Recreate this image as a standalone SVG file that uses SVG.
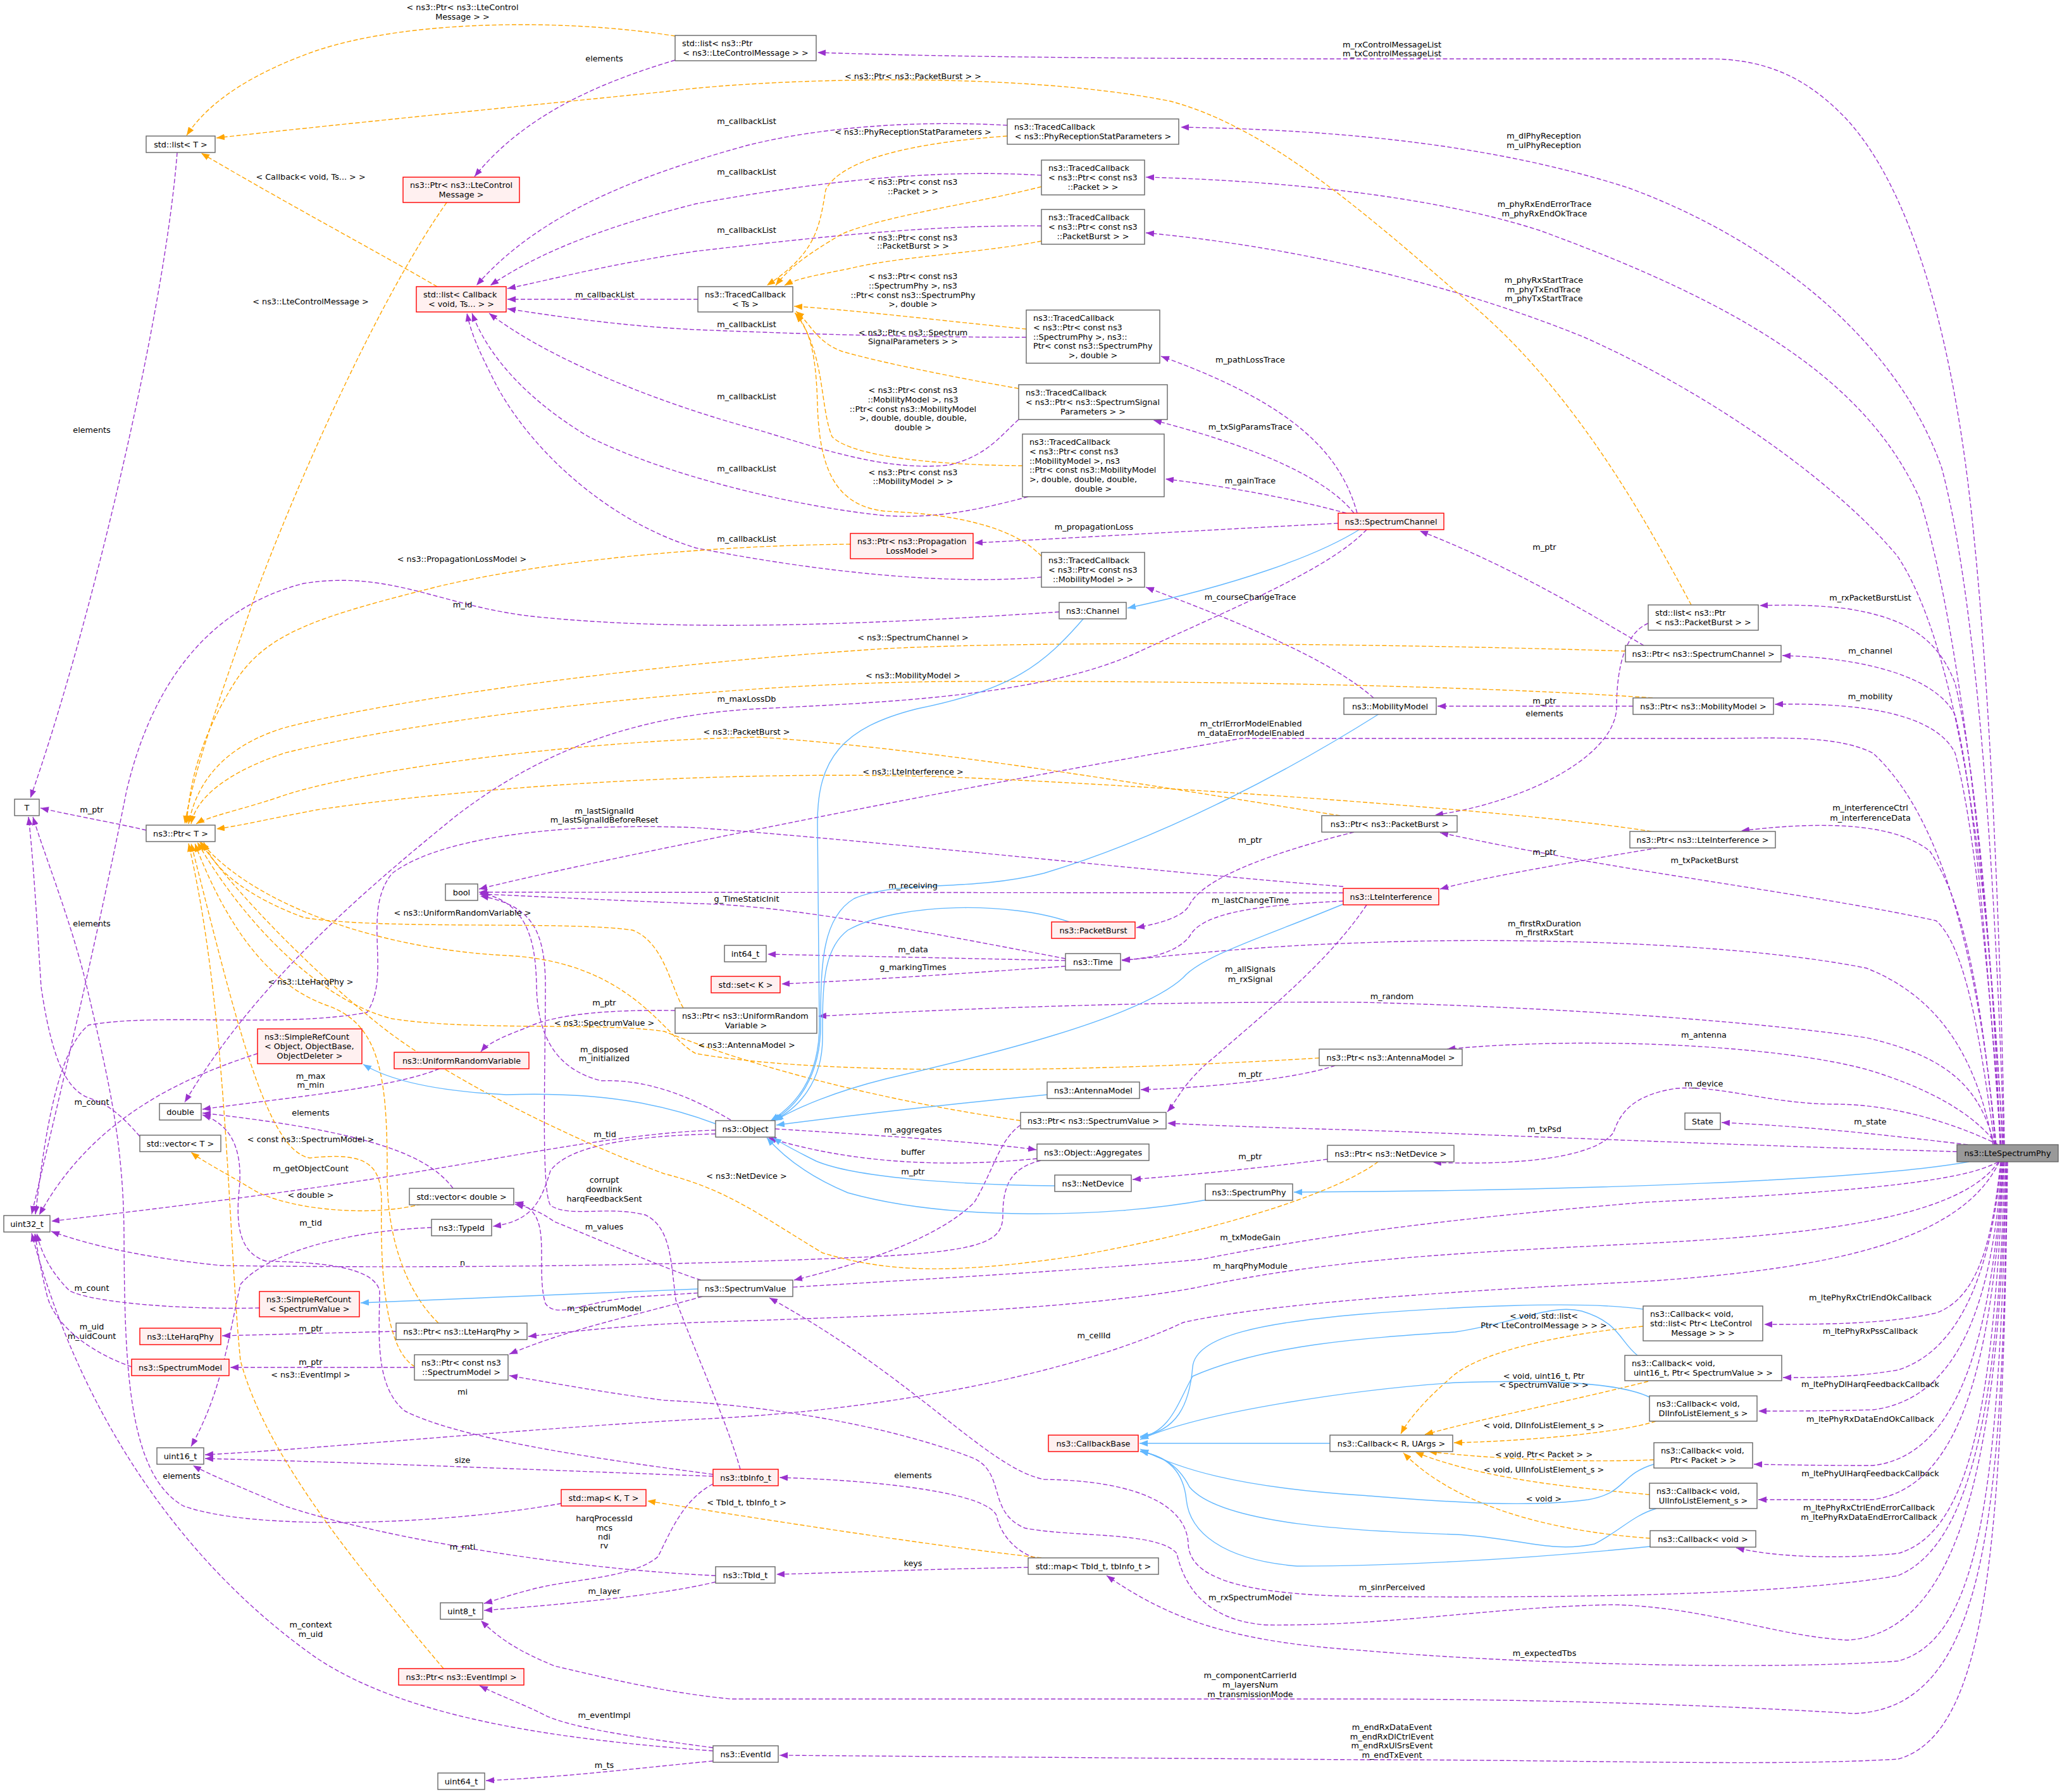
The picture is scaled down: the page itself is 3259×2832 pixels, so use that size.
<svg xmlns="http://www.w3.org/2000/svg" width="3259" height="2832" viewBox="0 0 3259 2832">
<style>
text{font-family:"DejaVu Sans","Liberation Sans",sans-serif;font-size:12.8px;fill:#000}
.m{text-anchor:middle}
.s{text-anchor:start}
.nd rect{fill:#fff;stroke:#666;stroke-width:1.4}
.rd rect{fill:#fff0f0;stroke:#f00;stroke-width:1.4}
.gd rect{fill:#999;stroke:#666;stroke-width:1.4}
.p,.o,.b{fill:none;stroke-width:1.4}
.p{stroke:#9a32cd;stroke-dasharray:7,3.5;marker-end:url(#ap)}
.o{stroke:#ffa500;stroke-dasharray:7,3.5;marker-end:url(#ao)}
.b{stroke:#63b8ff;marker-end:url(#ab)}
</style>
<defs>
<marker id="ap" viewBox="0 0 13 10" refX="13" refY="5" markerUnits="userSpaceOnUse" markerWidth="13" markerHeight="10" orient="auto"><path d="M0,0L13,5L0,10z" fill="#9a32cd"/></marker>
<marker id="ao" viewBox="0 0 13 10" refX="13" refY="5" markerUnits="userSpaceOnUse" markerWidth="13" markerHeight="10" orient="auto"><path d="M0,0L13,5L0,10z" fill="#ffa500"/></marker>
<marker id="ab" viewBox="0 0 13 10" refX="13" refY="5" markerUnits="userSpaceOnUse" markerWidth="13" markerHeight="10" orient="auto"><path d="M0,0L13,5L0,10z" fill="#63b8ff"/></marker>
</defs>
<rect width="3259" height="2832" fill="#fff"/>
<g id="edges">
<path class="p" d="M3168,1809 C3160,1400 3140,1000 3110,760 C3080,520 3020,300 2920,190 C2850,115 2780,93 2700,93 L2150,93 C1800,93 1500,90 1292,83"/>
<path class="p" d="M3167,1809 C3155,1400 3125,950 3069,740 C3000,540 2800,380 2574,297 C2350,225 2100,205 1866,201"/>
<path class="p" d="M3166,1809 C3140,1400 3100,1000 3034,788 C2950,600 2750,480 2433,364 C2250,305 2000,285 1811,280"/>
<path class="p" d="M3165,1809 C3140,1300 3080,1000 2999,879 C2900,760 2700,620 2504,533 C2300,450 2050,390 1811,368"/>
<path class="p" d="M3161,1809 C3150,1500 3120,1200 3090,1080 C3060,1000 3000,975 2920,962 C2860,955 2820,956 2781,957"/>
<path class="p" d="M3162,1809 C3140,1500 3120,1250 3090,1130 C3060,1070 2950,1040 2817,1036"/>
<path class="p" d="M3163,1809 C3145,1550 3120,1300 3090,1190 C3060,1130 2950,1110 2805,1113"/>
<path class="p" d="M3155,1809 C3130,1550 3080,1300 2960,1190 C2900,1160 2800,1167 2700,1167 L1962,1167 C1800,1195 1500,1250 1300,1290 C1100,1330 900,1370 757,1405"/>
<path class="p" d="M3154,1809 C3130,1550 3100,1420 3050,1345 C3000,1305 2900,1295 2752,1313"/>
<path class="p" d="M3153,1809 C3130,1650 3110,1500 3060,1455 C2900,1420 2600,1380 2450,1350 C2380,1338 2320,1325 2276,1316"/>
<path class="p" d="M3150,1809 C3120,1650 3050,1570 2950,1530 C2750,1490 2400,1480 2150,1490 C2000,1495 1900,1505 1773,1518"/>
<path class="p" d="M3152,1809 C3130,1720 3080,1670 2950,1640 C2750,1610 2400,1590 2150,1584 C1800,1582 1500,1595 1293,1606"/>
<path class="p" d="M3156,1809 C3120,1760 3050,1720 2950,1690 C2800,1650 2500,1638 2287,1658"/>
<path class="p" d="M3158,1809 C3100,1780 3000,1745 2900,1745 C2800,1745 2720,1715 2650,1720 C2580,1730 2560,1760 2550,1790 C2520,1830 2400,1842 2265,1837"/>
<path class="p" d="M3110,1809 C2950,1790 2850,1780 2721,1774"/>
<path class="p" d="M3093,1820 C2800,1812 2400,1795 2150,1786 C2000,1782 1900,1778 1845,1775"/>
<path class="b" d="M3112,1836 C2950,1865 2500,1882 2045,1884"/>
<path class="p" d="M3158,1836 C3100,1870 2900,1885 2600,1900 C2300,1925 2100,1950 1900,1990 C1700,2010 1300,2030 1000,2050 C920,2058 880,2085 862,2060 C850,2020 862,1960 850,1930 C844,1912 830,1904 814,1900"/>
<path class="p" d="M3159,1836 C3100,1920 2900,1950 2600,1965 C2300,1980 2100,1990 1890,2035 C1700,2070 1400,2080 1100,2090 C980,2095 900,2105 835,2112"/>
<path class="p" d="M3160,1836 C3100,1960 2900,2005 2600,2025 C2300,2040 2000,2060 1870,2090 C1700,2170 1400,2230 1100,2243 C800,2260 500,2290 324,2299"/>
<path class="p" d="M3162,1836 C3150,1950 3130,2050 3060,2075 C2980,2093 2880,2093 2788,2093"/>
<path class="p" d="M3163,1836 C3150,1980 3110,2130 3000,2165 C2930,2177 2870,2177 2818,2177"/>
<path class="p" d="M3164,1836 C3150,2050 3100,2210 2960,2228 C2880,2230 2830,2230 2779,2230"/>
<path class="p" d="M3165,1836 C3150,2100 3100,2300 2960,2316 C2880,2316 2820,2315 2772,2314"/>
<path class="p" d="M3166,1836 C3150,2150 3100,2350 2960,2370 C2880,2370 2830,2370 2779,2370"/>
<path class="p" d="M3167,1836 C3150,2200 3120,2420 3000,2455 C2900,2465 2800,2460 2744,2446"/>
<path class="p" d="M3168,1836 C3160,2200 3120,2440 3000,2490 C2800,2525 2400,2525 2150,2523 C1950,2520 1880,2490 1878,2440 C1876,2380 1800,2340 1650,2338 C1560,2320 1450,2180 1216,2051"/>
<path class="p" d="M3170,1836 C3160,2300 3100,2580 2920,2592 C2800,2585 2700,2540 2550,2536 C2350,2540 2200,2570 2000,2568 C1900,2560 1870,2500 1860,2455 C1830,2420 1700,2430 1620,2415 C1560,2390 1590,2330 1540,2305 C1400,2250 1200,2220 1050,2213 C950,2200 870,2185 805,2174"/>
<path class="p" d="M3171,1836 C3160,2350 3130,2590 3000,2625 C2800,2640 2400,2630 2150,2608 C1950,2595 1850,2560 1749,2490"/>
<path class="p" d="M3172,1836 C3165,2400 3140,2700 2930,2708 C2800,2700 2500,2685 2150,2685 L1155,2685 C1050,2675 950,2650 877,2633 C820,2610 790,2590 760,2561"/>
<path class="p" d="M3173,1836 C3165,2450 3140,2740 3000,2780 C2800,2792 2500,2781 2150,2781 L1232,2774"/>
<path class="p" d="M1067,95 C950,130 830,180 750,279"/>
<path class="p" d="M280,241 C260,500 140,1000 48,1261"/>
<path class="p" d="M1592,198 C1450,190 1300,200 1180,230 C1000,280 850,340 753,451"/>
<path class="p" d="M1646,277 C1450,265 1250,295 1100,322 C950,360 850,400 775,451"/>
<path class="p" d="M1646,357 C1450,355 1250,380 1100,397 C950,420 880,440 802,456"/>
<path class="p" d="M1103,473 L802,473"/>
<path class="p" d="M1622,533 C1400,533 1200,525 1100,521 C980,515 880,500 802,488"/>
<path class="p" d="M1610,663 C1580,690 1560,720 1500,735 C1400,745 1300,710 1200,680 C1050,640 870,570 773,495"/>
<path class="p" d="M1625,785 C1550,805 1480,820 1400,815 C1250,800 1050,750 930,690 C830,630 770,560 746,495"/>
<path class="p" d="M1646,912 C1500,925 1300,905 1100,866 C950,820 830,700 780,600 C760,560 745,530 738,495"/>
<path class="p" d="M2145,811 C2120,720 2050,640 1835,563"/>
<path class="p" d="M2140,811 C2100,760 2000,710 1823,664"/>
<path class="p" d="M2128,811 C2050,790 1950,770 1842,757"/>
<path class="p" d="M2115,827 C1900,838 1700,850 1540,858"/>
<path class="p" d="M2160,837 C2100,900 1950,960 1800,1030 C1650,1100 1400,1110 1200,1120 C1000,1130 850,1190 720,1290 C560,1420 400,1560 292,1742"/>
<path class="p" d="M2598,1020 C2520,975 2400,900 2244,839"/>
<path class="p" d="M2171,1103 C2100,1040 1950,980 1811,928"/>
<path class="p" d="M2581,1116 L2272,1116"/>
<path class="p" d="M2605,985 C2570,1000 2555,1050 2555,1120 C2550,1200 2400,1270 2268,1288"/>
<path class="p" d="M1674,967 C1400,985 1100,1000 850,975 C700,960 620,900 480,922 C330,960 240,1080 200,1250 C150,1500 90,1750 50,1919"/>
<path class="p" d="M2140,1315 C2000,1350 1900,1390 1880,1430 C1870,1450 1830,1460 1796,1466"/>
<path class="p" d="M2620,1340 C2500,1360 2350,1385 2276,1405"/>
<path class="p" d="M2123,1411 L757,1410"/>
<path class="p" d="M2123,1401 C1900,1385 1400,1330 1100,1308 C900,1300 700,1320 620,1380 C570,1440 620,1540 580,1600 C450,1625 250,1600 140,1620 C90,1660 70,1800 56,1919"/>
<path class="p" d="M2123,1424 C2000,1430 1900,1440 1880,1480 C1860,1505 1820,1515 1773,1517"/>
<path class="p" d="M2160,1430 C2100,1520 2000,1600 1920,1670 C1870,1710 1860,1740 1845,1757"/>
<path class="p" d="M1684,1515 C1500,1480 1250,1430 1100,1428 C900,1420 820,1415 757,1413"/>
<path class="p" d="M1684,1518 L1213,1508"/>
<path class="p" d="M1684,1527 C1500,1540 1350,1550 1235,1555"/>
<path class="p" d="M1067,1597 C950,1595 870,1605 830,1625 C790,1640 770,1650 760,1662"/>
<path class="p" d="M694,1689 C620,1720 450,1735 320,1753"/>
<path class="p" d="M2110,1684 C2050,1705 1900,1720 1803,1722"/>
<path class="p" d="M1613,1778 C1580,1800 1570,1850 1540,1900 C1480,1960 1350,2000 1255,2023"/>
<path class="p" d="M1225,1784 C1400,1795 1550,1805 1638,1817"/>
<path class="p" d="M1639,1831 C1500,1845 1350,1840 1214,1798"/>
<path class="p" d="M1645,1834 C1600,1845 1585,1870 1585,1920 C1585,1960 1560,1975 1400,1985 C1100,2000 700,2005 350,2000 C200,1985 120,1960 81,1946"/>
<path class="p" d="M1155,1770 C1100,1738 1030,1705 950,1708 C880,1690 850,1640 848,1560 C847,1480 830,1425 759,1411"/>
<path class="p" d="M1131,1786 C1000,1790 850,1820 700,1845 C500,1880 250,1910 81,1930"/>
<path class="p" d="M1131,1792 C1000,1795 900,1810 870,1850 C855,1900 840,1930 779,1938"/>
<path class="p" d="M682,1940 C550,1945 420,1980 380,2030 C360,2120 350,2200 302,2286"/>
<path class="p" d="M407,1665 C300,1700 150,1760 62,1920"/>
<path class="p" d="M410,2067 C300,2070 150,2060 110,2040 C80,2010 65,1980 58,1949"/>
<path class="p" d="M208,2160 C150,2140 90,2100 75,2050 C65,2010 60,1980 55,1949"/>
<path class="p" d="M1127,2767 C900,2750 650,2720 500,2620 C300,2480 130,2250 50,1949"/>
<path class="p" d="M1127,2762 C1000,2745 900,2730 860,2710 C820,2690 790,2680 758,2664"/>
<path class="p" d="M1127,2783 C1000,2795 900,2808 768,2814"/>
<path class="p" d="M1127,2333 C900,2325 600,2312 324,2305"/>
<path class="p" d="M1170,2322 C1150,2250 1100,2140 1068,2054 C1060,1990 1060,1940 1020,1920 C960,1905 900,1925 870,1905 C855,1880 862,1700 862,1550 C860,1470 840,1430 759,1416"/>
<path class="p" d="M1127,2345 C1080,2370 1060,2420 1040,2460 C1000,2495 900,2495 840,2512 C800,2522 780,2530 765,2534"/>
<path class="p" d="M1127,2330 C900,2300 720,2270 640,2230 C590,2190 600,2100 600,2040 C590,2000 500,1995 420,1993 C380,1980 372,1940 378,1880 C385,1810 360,1775 320,1762"/>
<path class="p" d="M1636,2462 C1600,2450 1580,2420 1575,2395 C1560,2360 1400,2340 1232,2335"/>
<path class="p" d="M1625,2477 C1450,2480 1350,2485 1227,2488"/>
<path class="p" d="M1131,2500 C1050,2520 900,2535 765,2545"/>
<path class="p" d="M1131,2490 C900,2480 600,2430 450,2380 C380,2350 330,2330 305,2316"/>
<path class="p" d="M887,2376 C700,2410 400,2420 290,2380 C200,2330 197,2150 196,1950 C195,1800 170,1700 135,1550 C110,1450 70,1350 52,1291"/>
<path class="p" d="M221,1796 C190,1760 170,1745 140,1735 C100,1720 80,1660 65,1560 C58,1450 52,1350 45,1291"/>
<path class="p" d="M231,1312 C180,1300 120,1290 64,1277"/>
<path class="p" d="M716,1878 C680,1830 600,1790 320,1759"/>
<path class="p" d="M1108,2023 C1050,2005 950,1960 877,1931 C860,1920 850,1912 814,1903"/>
<path class="p" d="M1110,2049 C1000,2080 900,2100 805,2140"/>
<path class="p" d="M655,2161 L364,2161"/>
<path class="p" d="M626,2104 L351,2111"/>
<path class="p" d="M2098,1832 C2000,1845 1900,1855 1790,1864"/>
<path class="o" d="M1067,57 C900,30 650,30 500,80 C400,115 330,160 295,214"/>
<path class="o" d="M2673,956 C2600,820 2480,600 2300,460 C2150,330 2000,200 1850,160 C1600,110 1200,125 1050,145 C800,170 500,200 342,218"/>
<path class="o" d="M691,453 C600,400 450,320 318,242"/>
<path class="o" d="M706,320 C600,470 470,760 400,950 C360,1070 310,1200 292,1302"/>
<path class="o" d="M1592,215 C1450,225 1330,250 1305,300 C1295,360 1290,400 1212,451"/>
<path class="o" d="M1646,295 C1550,320 1400,340 1330,370 C1280,400 1250,420 1226,451"/>
<path class="o" d="M1646,381 C1550,400 1420,405 1340,425 C1290,435 1260,440 1240,451"/>
<path class="o" d="M1622,520 C1500,508 1350,490 1255,484"/>
<path class="o" d="M1610,614 C1500,595 1380,570 1330,555 C1290,540 1280,510 1258,492"/>
<path class="o" d="M1616,736 C1500,735 1350,725 1315,690 C1295,640 1305,560 1258,496"/>
<path class="o" d="M1646,879 C1600,830 1500,812 1400,808 C1320,800 1295,740 1292,640 C1290,560 1280,520 1256,494"/>
<path class="o" d="M1344,860 C1150,862 900,880 700,925 C500,975 420,1000 370,1080 C320,1160 300,1230 295,1302"/>
<path class="o" d="M2569,1029 C2300,1020 1700,1010 1400,1025 C1000,1050 600,1110 450,1150 C350,1180 310,1240 298,1302"/>
<path class="o" d="M2612,1103 C2400,1088 2000,1075 1500,1077 C1100,1080 650,1140 450,1190 C360,1220 310,1260 302,1302"/>
<path class="o" d="M2118,1289 C1900,1255 1500,1185 1200,1165 C900,1170 550,1220 440,1260 C380,1280 330,1290 310,1302"/>
<path class="o" d="M2610,1314 C2400,1280 1800,1240 1500,1228 C1100,1215 700,1250 500,1280 C420,1295 380,1305 342,1310"/>
<path class="o" d="M1080,1593 C1060,1560 1050,1490 1000,1470 C900,1455 600,1470 480,1450 C400,1420 340,1380 322,1331"/>
<path class="o" d="M2085,1672 C1700,1695 1300,1700 1100,1665 C1050,1640 1000,1520 800,1510 C600,1500 400,1430 318,1331"/>
<path class="o" d="M1613,1771 C1400,1740 1200,1690 1050,1630 C950,1615 750,1630 620,1610 C500,1580 380,1450 312,1331"/>
<path class="o" d="M2178,1836 C2120,1880 1950,1940 1700,1985 C1500,2015 1400,2010 1300,1980 C1200,1920 1150,1880 1050,1855 C900,1800 700,1700 600,1620 C500,1540 380,1420 316,1331"/>
<path class="o" d="M693,2091 C640,2040 610,1950 612,1850 C612,1700 600,1620 520,1590 C430,1560 360,1470 308,1333"/>
<path class="o" d="M656,2160 C620,2140 600,2060 603,1900 C603,1840 580,1820 490,1830 C420,1820 370,1600 302,1333"/>
<path class="o" d="M701,2637 C560,2470 420,2300 380,2150 C360,1950 360,1600 298,1333"/>
<path class="o" d="M666,1903 C580,1925 450,1910 400,1880 C350,1850 320,1835 302,1821"/>
<path class="o" d="M1646,2462 C1450,2440 1200,2400 1023,2372"/>
<path class="o" d="M2597,2096 C2450,2110 2330,2140 2290,2180 C2250,2215 2225,2245 2214,2266"/>
<path class="o" d="M2605,2183 C2500,2210 2350,2240 2252,2267"/>
<path class="o" d="M2617,2246 C2560,2265 2400,2278 2298,2280"/>
<path class="o" d="M2614,2307 C2500,2312 2350,2305 2258,2294"/>
<path class="o" d="M2607,2362 C2500,2352 2350,2340 2237,2295"/>
<path class="o" d="M2608,2431 C2450,2420 2300,2380 2218,2296"/>
<path class="b" d="M2150,836 C2080,880 1950,925 1782,961"/>
<path class="b" d="M1713,977 C1650,1050 1600,1090 1450,1120 C1330,1150 1292,1200 1292,1300 L1295,1620 C1295,1700 1260,1745 1218,1771"/>
<path class="b" d="M2180,1128 C2050,1210 1850,1320 1650,1380 C1530,1410 1420,1390 1350,1420 C1300,1450 1297,1520 1297,1620 C1297,1700 1260,1750 1220,1771"/>
<path class="b" d="M1690,1457 C1600,1425 1420,1425 1340,1470 C1300,1500 1300,1560 1300,1640 C1300,1710 1262,1752 1222,1771"/>
<path class="b" d="M2125,1428 C2000,1480 1900,1510 1870,1545 C1800,1610 1550,1670 1400,1705 C1320,1725 1260,1750 1225,1771"/>
<path class="b" d="M1655,1730 C1500,1745 1350,1762 1227,1778"/>
<path class="b" d="M1667,1874 C1500,1872 1350,1860 1290,1835 C1260,1820 1240,1810 1222,1798"/>
<path class="b" d="M1908,1896 C1750,1925 1500,1930 1340,1885 C1280,1860 1240,1830 1212,1798"/>
<path class="b" d="M1131,1776 C1050,1745 950,1725 800,1730 C700,1725 620,1710 574,1682"/>
<path class="b" d="M1103,2037 C900,2045 700,2052 570,2059"/>
<path class="b" d="M2102,2281 L1801,2281"/>
<path class="b" d="M2597,2069 C2500,2055 2300,2065 2150,2077 C2000,2090 1890,2110 1885,2160 C1880,2220 1860,2262 1802,2270"/>
<path class="b" d="M2588,2142 C2560,2120 2560,2090 2500,2072 C2450,2060 2400,2090 2300,2105 C2150,2115 2000,2125 1885,2175 C1860,2220 1850,2262 1802,2272"/>
<path class="b" d="M2607,2208 C2560,2185 2450,2180 2300,2185 C2150,2195 1900,2230 1802,2275"/>
<path class="b" d="M2614,2314 C2560,2330 2570,2360 2510,2370 C2400,2385 2250,2370 2150,2363 C1950,2350 1860,2320 1802,2290"/>
<path class="b" d="M2618,2384 C2580,2395 2560,2420 2520,2440 C2450,2455 2400,2430 2300,2425 C2150,2420 1930,2410 1880,2350 C1860,2310 1830,2300 1802,2293"/>
<path class="b" d="M2608,2444 C2400,2465 2200,2475 2050,2475 C1930,2465 1880,2420 1875,2370 C1870,2320 1840,2300 1802,2294"/>
<g class="m">
<text x="731" y="16">&lt; ns3::Ptr&lt; ns3::LteControl</text><text x="731" y="31">Message &gt; &gt;</text>
<text x="955" y="97">elements</text>
<text x="2200" y="75">m_rxControlMessageList</text><text x="2200" y="89">m_txControlMessageList</text>
<text x="1443" y="125">&lt; ns3::Ptr&lt; ns3::PacketBurst &gt; &gt;</text>
<text x="1180" y="196">m_callbackList</text>
<text x="1443" y="213">&lt; ns3::PhyReceptionStatParameters &gt;</text>
<text x="2440" y="219">m_dlPhyReception</text><text x="2440" y="234">m_ulPhyReception</text>
<text x="1180" y="276">m_callbackList</text>
<text x="1443" y="292">&lt; ns3::Ptr&lt; const ns3</text><text x="1443" y="307">::Packet &gt; &gt;</text>
<text x="491" y="284">&lt; Callback&lt; void, Ts... &gt; &gt;</text>
<text x="2441" y="327">m_phyRxEndErrorTrace</text><text x="2441" y="342">m_phyRxEndOkTrace</text>
<text x="1180" y="368">m_callbackList</text>
<text x="1443" y="380">&lt; ns3::Ptr&lt; const ns3</text><text x="1443" y="393">::PacketBurst &gt; &gt;</text>
<text x="1443" y="441">&lt; ns3::Ptr&lt; const ns3</text><text x="1443" y="456">::SpectrumPhy &gt;, ns3</text><text x="1443" y="471">::Ptr&lt; const ns3::SpectrumPhy</text><text x="1443" y="485">&gt;, double &gt;</text>
<text x="2440" y="447">m_phyRxStartTrace</text><text x="2440" y="462">m_phyTxEndTrace</text><text x="2440" y="476">m_phyTxStartTrace</text>
<text x="956" y="470">m_callbackList</text>
<text x="491" y="481">&lt; ns3::LteControlMessage &gt;</text>
<text x="1180" y="517">m_callbackList</text>
<text x="1443" y="530">&lt; ns3::Ptr&lt; ns3::Spectrum</text><text x="1443" y="544">SignalParameters &gt; &gt;</text>
<text x="1976" y="573">m_pathLossTrace</text>
<text x="1443" y="621">&lt; ns3::Ptr&lt; const ns3</text><text x="1443" y="636">::MobilityModel &gt;, ns3</text><text x="1443" y="651">::Ptr&lt; const ns3::MobilityModel</text><text x="1443" y="665">&gt;, double, double, double,</text><text x="1443" y="680">double &gt;</text>
<text x="1180" y="631">m_callbackList</text>
<text x="1976" y="679">m_txSigParamsTrace</text>
<text x="145" y="684">elements</text>
<text x="1180" y="745">m_callbackList</text>
<text x="1443" y="751">&lt; ns3::Ptr&lt; const ns3</text><text x="1443" y="765">::MobilityModel &gt; &gt;</text>
<text x="1976" y="764">m_gainTrace</text>
<text x="1729" y="837">m_propagationLoss</text>
<text x="1180" y="856">m_callbackList</text>
<text x="2441" y="869">m_ptr</text>
<text x="730" y="888">&lt; ns3::PropagationLossModel &gt;</text>
<text x="1976" y="948">m_courseChangeTrace</text>
<text x="2956" y="949">m_rxPacketBurstList</text>
<text x="731" y="960">m_id</text>
<text x="1443" y="1012">&lt; ns3::SpectrumChannel &gt;</text>
<text x="2956" y="1033">m_channel</text>
<text x="1443" y="1072">&lt; ns3::MobilityModel &gt;</text>
<text x="2956" y="1105">m_mobility</text>
<text x="1180" y="1109">m_maxLossDb</text>
<text x="2441" y="1112">m_ptr</text>
<text x="2441" y="1132">elements</text>
<text x="1977" y="1148">m_ctrlErrorModelEnabled</text><text x="1977" y="1163">m_dataErrorModelEnabled</text>
<text x="1180" y="1161">&lt; ns3::PacketBurst &gt;</text>
<text x="1443" y="1224">&lt; ns3::LteInterference &gt;</text>
<text x="2956" y="1281">m_interferenceCtrl</text><text x="2956" y="1297">m_interferenceData</text>
<text x="145" y="1284">m_ptr</text>
<text x="955" y="1286">m_lastSignalId</text><text x="955" y="1300">m_lastSignalIdBeforeReset</text>
<text x="1976" y="1332">m_ptr</text>
<text x="2441" y="1351">m_ptr</text>
<text x="2694" y="1364">m_txPacketBurst</text>
<text x="1443" y="1404">m_receiving</text>
<text x="1180" y="1425">g_TimeStaticInit</text>
<text x="1976" y="1427">m_lastChangeTime</text>
<text x="731" y="1447">&lt; ns3::UniformRandomVariable &gt;</text>
<text x="145" y="1464">elements</text>
<text x="2441" y="1464">m_firstRxDuration</text><text x="2441" y="1478">m_firstRxStart</text>
<text x="1443" y="1505">m_data</text>
<text x="1443" y="1533">g_markingTimes</text>
<text x="1976" y="1536">m_allSignals</text><text x="1976" y="1552">m_rxSignal</text>
<text x="491" y="1556">&lt; ns3::LteHarqPhy &gt;</text>
<text x="2200" y="1579">m_random</text>
<text x="955" y="1589">m_ptr</text>
<text x="955" y="1621">&lt; ns3::SpectrumValue &gt;</text>
<text x="2693" y="1640">m_antenna</text>
<text x="1180" y="1656">&lt; ns3::AntennaModel &gt;</text>
<text x="955" y="1663">m_disposed</text><text x="955" y="1677">m_initialized</text>
<text x="1976" y="1702">m_ptr</text>
<text x="491" y="1705">m_max</text><text x="491" y="1719">m_min</text>
<text x="2693" y="1717">m_device</text>
<text x="145" y="1746">m_count</text>
<text x="491" y="1763">elements</text>
<text x="2956" y="1777">m_state</text>
<text x="2441" y="1789">m_txPsd</text>
<text x="1443" y="1790">m_aggregates</text>
<text x="956" y="1797">m_tid</text>
<text x="491" y="1805">&lt; const ns3::SpectrumModel &gt;</text>
<text x="1443" y="1825">buffer</text>
<text x="1976" y="1832">m_ptr</text>
<text x="491" y="1851">m_getObjectCount</text>
<text x="1443" y="1856">m_ptr</text>
<text x="1180" y="1863">&lt; ns3::NetDevice &gt;</text>
<text x="955" y="1869">corrupt</text><text x="955" y="1884">downlink</text><text x="955" y="1899">harqFeedbackSent</text>
<text x="491" y="1893">&lt; double &gt;</text>
<text x="491" y="1937">m_tid</text>
<text x="955" y="1943">m_values</text>
<text x="1976" y="1960">m_txModeGain</text>
<text x="731" y="2000">n</text>
<text x="1976" y="2005">m_harqPhyModule</text>
<text x="145" y="2040">m_count</text>
<text x="2956" y="2055">m_ltePhyRxCtrlEndOkCallback</text>
<text x="955" y="2072">m_spectrumModel</text>
<text x="2440" y="2084">&lt; void, std::list&lt;</text><text x="2440" y="2099">Ptr&lt; LteControlMessage &gt; &gt; &gt;</text>
<text x="145" y="2101">m_uid</text><text x="145" y="2116">m_uidCount</text>
<text x="491" y="2104">m_ptr</text>
<text x="2956" y="2108">m_ltePhyRxPssCallback</text>
<text x="1729" y="2115">m_cellId</text>
<text x="491" y="2157">m_ptr</text>
<text x="491" y="2177">&lt; ns3::EventImpl &gt;</text>
<text x="2440" y="2179">&lt; void, uint16_t, Ptr</text><text x="2440" y="2193">&lt; SpectrumValue &gt; &gt;</text>
<text x="2956" y="2192">m_ltePhyDlHarqFeedbackCallback</text>
<text x="731" y="2204">mi</text>
<text x="2956" y="2247">m_ltePhyRxDataEndOkCallback</text>
<text x="2440" y="2257">&lt; void, DlInfoListElement_s &gt;</text>
<text x="2440" y="2303">&lt; void, Ptr&lt; Packet &gt; &gt;</text>
<text x="731" y="2312">size</text>
<text x="2440" y="2327">&lt; void, UlInfoListElement_s &gt;</text>
<text x="2956" y="2333">m_ltePhyUlHarqFeedbackCallback</text>
<text x="1443" y="2336">elements</text>
<text x="287" y="2337">elements</text>
<text x="2440" y="2373">&lt; void &gt;</text>
<text x="1180" y="2379">&lt; TbId_t, tbInfo_t &gt;</text>
<text x="2954" y="2387">m_ltePhyRxCtrlEndErrorCallback</text><text x="2954" y="2402">m_ltePhyRxDataEndErrorCallback</text>
<text x="955" y="2404">harqProcessId</text><text x="955" y="2419">mcs</text><text x="955" y="2433">ndi</text><text x="955" y="2447">rv</text>
<text x="731" y="2449">m_rnti</text>
<text x="1443" y="2475">keys</text>
<text x="2200" y="2513">m_sinrPerceived</text>
<text x="955" y="2519">m_layer</text>
<text x="1976" y="2529">m_rxSpectrumModel</text>
<text x="491" y="2572">m_context</text><text x="491" y="2587">m_uid</text>
<text x="2441" y="2617">m_expectedTbs</text>
<text x="1976" y="2652">m_componentCarrierId</text><text x="1976" y="2667">m_layersNum</text><text x="1976" y="2682">m_transmissionMode</text>
<text x="955" y="2715">m_eventImpl</text>
<text x="2200" y="2734">m_endRxDataEvent</text><text x="2200" y="2749">m_endRxDlCtrlEvent</text><text x="2200" y="2763">m_endRxUlSrsEvent</text><text x="2200" y="2778">m_endTxEvent</text>
<text x="955" y="2794">m_ts</text>
</g>
</g>
<g id="node-listLteCtrl" class="nd"><rect x="1067" y="56" width="223" height="40"/><text class="s" x="1078" y="73">std::list&lt; ns3::Ptr</text><text class="m" x="1178.5" y="88">&lt; ns3::LteControlMessage &gt; &gt;</text></g>
<g id="node-listT" class="nd"><rect x="231" y="215" width="109" height="26"/><text class="m" x="285.5" y="232.5">std::list&lt; T &gt;</text></g>
<g id="node-PtrLteCtrlMsg" class="rd"><rect x="637" y="280" width="184" height="40"/><text class="s" x="648" y="297">ns3::Ptr&lt; ns3::LteControl</text><text class="m" x="729" y="312">Message &gt;</text></g>
<g id="node-listCallback" class="rd"><rect x="658" y="453" width="142" height="40"/><text class="s" x="669" y="470">std::list&lt; Callback</text><text class="m" x="729" y="485">&lt; void, Ts... &gt; &gt;</text></g>
<g id="node-TCPhyRecep" class="nd"><rect x="1592" y="188" width="271" height="40"/><text class="s" x="1603" y="205">ns3::TracedCallback</text><text class="m" x="1727.5" y="220">&lt; ns3::PhyReceptionStatParameters &gt;</text></g>
<g id="node-TCPacket" class="nd"><rect x="1646" y="253" width="163" height="55"/><text class="s" x="1657" y="270">ns3::TracedCallback</text><text class="s" x="1657" y="285">&lt; ns3::Ptr&lt; const ns3</text><text class="m" x="1727.5" y="300">::Packet &gt; &gt;</text></g>
<g id="node-TCPacketBurst" class="nd"><rect x="1646" y="331" width="163" height="55"/><text class="s" x="1657" y="348">ns3::TracedCallback</text><text class="s" x="1657" y="363">&lt; ns3::Ptr&lt; const ns3</text><text class="m" x="1727.5" y="378">::PacketBurst &gt; &gt;</text></g>
<g id="node-TCTs" class="nd"><rect x="1103" y="453" width="150" height="40"/><text class="s" x="1114" y="470">ns3::TracedCallback</text><text class="m" x="1178" y="485">&lt; Ts &gt;</text></g>
<g id="node-TCSpecPhy" class="nd"><rect x="1622" y="490" width="211" height="84"/><text class="s" x="1633" y="507">ns3::TracedCallback</text><text class="s" x="1633" y="522">&lt; ns3::Ptr&lt; const ns3</text><text class="s" x="1633" y="536.5">::SpectrumPhy &gt;, ns3::</text><text class="s" x="1633" y="551">Ptr&lt; const ns3::SpectrumPhy</text><text class="m" x="1727.5" y="566">&gt;, double &gt;</text></g>
<g id="node-TCSigParams" class="nd"><rect x="1610" y="608" width="235" height="55"/><text class="s" x="1621" y="625">ns3::TracedCallback</text><text class="s" x="1621" y="640">&lt; ns3::Ptr&lt; ns3::SpectrumSignal</text><text class="m" x="1727.5" y="655">Parameters &gt; &gt;</text></g>
<g id="node-TCMobMob" class="nd"><rect x="1616" y="686" width="224" height="99"/><text class="s" x="1627" y="703">ns3::TracedCallback</text><text class="s" x="1627" y="718">&lt; ns3::Ptr&lt; const ns3</text><text class="s" x="1627" y="733">::MobilityModel &gt;, ns3</text><text class="s" x="1627" y="747">::Ptr&lt; const ns3::MobilityModel</text><text class="s" x="1627" y="762">&gt;, double, double, double,</text><text class="m" x="1728" y="777">double &gt;</text></g>
<g id="node-PtrPropLoss" class="rd"><rect x="1344" y="843" width="194" height="40"/><text class="s" x="1355" y="860">ns3::Ptr&lt; ns3::Propagation</text><text class="m" x="1441" y="875">LossModel &gt;</text></g>
<g id="node-TCMob" class="nd"><rect x="1646" y="873" width="163" height="55"/><text class="s" x="1657" y="890">ns3::TracedCallback</text><text class="s" x="1657" y="905">&lt; ns3::Ptr&lt; const ns3</text><text class="m" x="1727.5" y="920">::MobilityModel &gt; &gt;</text></g>
<g id="node-SpectrumChannel" class="rd"><rect x="2115" y="811" width="167" height="26"/><text class="m" x="2198.5" y="828.5">ns3::SpectrumChannel</text></g>
<g id="node-Channel" class="nd"><rect x="1674" y="952" width="106" height="26"/><text class="m" x="1727" y="969.5">ns3::Channel</text></g>
<g id="node-listPktBurst" class="nd"><rect x="2605" y="956" width="174" height="40"/><text class="s" x="2616" y="973">std::list&lt; ns3::Ptr</text><text class="m" x="2692" y="988">&lt; ns3::PacketBurst &gt; &gt;</text></g>
<g id="node-PtrSpecChan" class="nd"><rect x="2569" y="1020" width="246" height="26"/><text class="m" x="2692" y="1037.5">ns3::Ptr&lt; ns3::SpectrumChannel &gt;</text></g>
<g id="node-PtrMob" class="nd"><rect x="2581" y="1103" width="222" height="26"/><text class="m" x="2692" y="1120.5">ns3::Ptr&lt; ns3::MobilityModel &gt;</text></g>
<g id="node-MobilityModel" class="nd"><rect x="2124" y="1103" width="146" height="26"/><text class="m" x="2197" y="1120.5">ns3::MobilityModel</text></g>
<g id="node-PtrPacketBurst" class="nd"><rect x="2089" y="1289" width="214" height="26"/><text class="m" x="2196" y="1306.5">ns3::Ptr&lt; ns3::PacketBurst &gt;</text></g>
<g id="node-PtrLteInterf" class="nd"><rect x="2576" y="1314" width="230" height="26"/><text class="m" x="2691" y="1331.5">ns3::Ptr&lt; ns3::LteInterference &gt;</text></g>
<g id="node-LteInterference" class="rd"><rect x="2123" y="1404" width="151" height="26"/><text class="m" x="2198.5" y="1421.5">ns3::LteInterference</text></g>
<g id="node-bool" class="nd"><rect x="704" y="1397" width="51" height="26"/><text class="m" x="729.5" y="1414.5">bool</text></g>
<g id="node-PacketBurst" class="rd"><rect x="1662" y="1457" width="132" height="26"/><text class="m" x="1728" y="1474.5">ns3::PacketBurst</text></g>
<g id="node-int64" class="nd"><rect x="1145" y="1494" width="66" height="26"/><text class="m" x="1178" y="1511.5">int64_t</text></g>
<g id="node-Time" class="nd"><rect x="1684" y="1507" width="87" height="26"/><text class="m" x="1727.5" y="1524.5">ns3::Time</text></g>
<g id="node-setK" class="rd"><rect x="1124" y="1543" width="109" height="26"/><text class="m" x="1178.5" y="1560.5">std::set&lt; K &gt;</text></g>
<g id="node-PtrURV" class="nd"><rect x="1067" y="1593" width="224" height="40"/><text class="s" x="1078" y="1610">ns3::Ptr&lt; ns3::UniformRandom</text><text class="m" x="1179" y="1625">Variable &gt;</text></g>
<g id="node-PtrAntenna" class="nd"><rect x="2085" y="1658" width="226" height="26"/><text class="m" x="2198" y="1675.5">ns3::Ptr&lt; ns3::AntennaModel &gt;</text></g>
<g id="node-AntennaModel" class="nd"><rect x="1655" y="1710" width="146" height="26"/><text class="m" x="1728" y="1727.5">ns3::AntennaModel</text></g>
<g id="node-PtrSpecValue" class="nd"><rect x="1613" y="1758" width="230" height="26"/><text class="m" x="1728" y="1775.5">ns3::Ptr&lt; ns3::SpectrumValue &gt;</text></g>
<g id="node-Object" class="nd"><rect x="1131" y="1771" width="94" height="26"/><text class="m" x="1178" y="1788.5">ns3::Object</text></g>
<g id="node-Aggregates" class="nd"><rect x="1639" y="1808" width="177" height="26"/><text class="m" x="1727.5" y="1825.5">ns3::Object::Aggregates</text></g>
<g id="node-NetDevice" class="nd"><rect x="1667" y="1857" width="121" height="26"/><text class="m" x="1727.5" y="1874.5">ns3::NetDevice</text></g>
<g id="node-PtrNetDevice" class="nd"><rect x="2098" y="1810" width="200" height="26"/><text class="m" x="2198" y="1827.5">ns3::Ptr&lt; ns3::NetDevice &gt;</text></g>
<g id="node-SpectrumPhy" class="nd"><rect x="1905" y="1871" width="138" height="26"/><text class="m" x="1974" y="1888.5">ns3::SpectrumPhy</text></g>
<g id="node-State" class="nd"><rect x="2663" y="1759" width="56" height="26"/><text class="m" x="2691" y="1776.5">State</text></g>
<g id="node-LteSpectrumPhy" class="gd"><rect x="3093" y="1809" width="160" height="27"/><text class="m" x="3173" y="1827">ns3::LteSpectrumPhy</text></g>
<g id="node-T" class="nd"><rect x="23" y="1263" width="39" height="26"/><text class="m" x="42.5" y="1280.5">T</text></g>
<g id="node-PtrT" class="nd"><rect x="231" y="1304" width="109" height="26"/><text class="m" x="285.5" y="1321.5">ns3::Ptr&lt; T &gt;</text></g>
<g id="node-SimpleRefObj" class="rd"><rect x="407" y="1626" width="165" height="55"/><text class="s" x="418" y="1643">ns3::SimpleRefCount</text><text class="s" x="418" y="1658">&lt; Object, ObjectBase,</text><text class="m" x="489.5" y="1673">ObjectDeleter &gt;</text></g>
<g id="node-URV" class="rd"><rect x="623" y="1663" width="213" height="26"/><text class="m" x="729.5" y="1680.5">ns3::UniformRandomVariable</text></g>
<g id="node-double" class="nd"><rect x="252" y="1744" width="66" height="26"/><text class="m" x="285" y="1761.5">double</text></g>
<g id="node-vectorT" class="nd"><rect x="221" y="1794" width="128" height="26"/><text class="m" x="285" y="1811.5">std::vector&lt; T &gt;</text></g>
<g id="node-vectorDouble" class="nd"><rect x="647" y="1878" width="165" height="26"/><text class="m" x="729.5" y="1895.5">std::vector&lt; double &gt;</text></g>
<g id="node-uint32" class="nd"><rect x="6" y="1921" width="73" height="26"/><text class="m" x="42.5" y="1938.5">uint32_t</text></g>
<g id="node-TypeId" class="nd"><rect x="682" y="1927" width="95" height="26"/><text class="m" x="729.5" y="1944.5">ns3::TypeId</text></g>
<g id="node-SimpleRefSV" class="rd"><rect x="410" y="2041" width="158" height="40"/><text class="s" x="421" y="2058">ns3::SimpleRefCount</text><text class="m" x="489" y="2073">&lt; SpectrumValue &gt;</text></g>
<g id="node-LteHarqPhy" class="rd"><rect x="221" y="2099" width="128" height="26"/><text class="m" x="285" y="2116.5">ns3::LteHarqPhy</text></g>
<g id="node-PtrLteHarqPhy" class="nd"><rect x="626" y="2091" width="207" height="26"/><text class="m" x="729.5" y="2108.5">ns3::Ptr&lt; ns3::LteHarqPhy &gt;</text></g>
<g id="node-SpectrumModel" class="rd"><rect x="208" y="2148" width="154" height="26"/><text class="m" x="285" y="2165.5">ns3::SpectrumModel</text></g>
<g id="node-PtrConstSM" class="nd"><rect x="655" y="2141" width="148" height="40"/><text class="s" x="666" y="2158">ns3::Ptr&lt; const ns3</text><text class="m" x="729" y="2173">::SpectrumModel &gt;</text></g>
<g id="node-SpectrumValue" class="nd"><rect x="1103" y="2023" width="150" height="26"/><text class="m" x="1178" y="2040.5">ns3::SpectrumValue</text></g>
<g id="node-uint16" class="nd"><rect x="248" y="2288" width="74" height="26"/><text class="m" x="285" y="2305.5">uint16_t</text></g>
<g id="node-tbInfo" class="rd"><rect x="1127" y="2322" width="103" height="26"/><text class="m" x="1178.5" y="2339.5">ns3::tbInfo_t</text></g>
<g id="node-mapKT" class="rd"><rect x="887" y="2354" width="134" height="26"/><text class="m" x="954" y="2371.5">std::map&lt; K, T &gt;</text></g>
<g id="node-TbId" class="nd"><rect x="1131" y="2476" width="94" height="26"/><text class="m" x="1178" y="2493.5">ns3::TbId_t</text></g>
<g id="node-mapTbId" class="nd"><rect x="1625" y="2462" width="206" height="26"/><text class="m" x="1728" y="2479.5">std::map&lt; TbId_t, tbInfo_t &gt;</text></g>
<g id="node-uint8" class="nd"><rect x="696" y="2533" width="67" height="26"/><text class="m" x="729.5" y="2550.5">uint8_t</text></g>
<g id="node-PtrEventImpl" class="rd"><rect x="630" y="2637" width="198" height="26"/><text class="m" x="729" y="2654.5">ns3::Ptr&lt; ns3::EventImpl &gt;</text></g>
<g id="node-EventId" class="nd"><rect x="1127" y="2759" width="103" height="26"/><text class="m" x="1178.5" y="2776.5">ns3::EventId</text></g>
<g id="node-uint64" class="nd"><rect x="692" y="2802" width="74" height="26"/><text class="m" x="729" y="2819.5">uint64_t</text></g>
<g id="node-CallbackBase" class="rd"><rect x="1657" y="2268" width="142" height="26"/><text class="m" x="1728" y="2285.5">ns3::CallbackBase</text></g>
<g id="node-CallbackRU" class="nd"><rect x="2102" y="2268" width="194" height="26"/><text class="m" x="2199" y="2285.5">ns3::Callback&lt; R, UArgs &gt;</text></g>
<g id="node-CbCtrlMsg" class="nd"><rect x="2597" y="2064" width="189" height="55"/><text class="s" x="2608" y="2081">ns3::Callback&lt; void,</text><text class="s" x="2608" y="2096">std::list&lt; Ptr&lt; LteControl</text><text class="m" x="2691.5" y="2111">Message &gt; &gt; &gt;</text></g>
<g id="node-CbSpecVal" class="nd"><rect x="2568" y="2142" width="248" height="40"/><text class="s" x="2579" y="2159">ns3::Callback&lt; void,</text><text class="m" x="2692" y="2174">uint16_t, Ptr&lt; SpectrumValue &gt; &gt;</text></g>
<g id="node-CbDlInfo" class="nd"><rect x="2607" y="2206" width="170" height="40"/><text class="s" x="2618" y="2223">ns3::Callback&lt; void,</text><text class="m" x="2692" y="2238">DlInfoListElement_s &gt;</text></g>
<g id="node-CbPacket" class="nd"><rect x="2614" y="2280" width="156" height="40"/><text class="s" x="2625" y="2297">ns3::Callback&lt; void,</text><text class="m" x="2692" y="2312">Ptr&lt; Packet &gt; &gt;</text></g>
<g id="node-CbUlInfo" class="nd"><rect x="2607" y="2344" width="170" height="40"/><text class="s" x="2618" y="2361">ns3::Callback&lt; void,</text><text class="m" x="2692" y="2376">UlInfoListElement_s &gt;</text></g>
<g id="node-CbVoid" class="nd"><rect x="2608" y="2419" width="167" height="26"/><text class="m" x="2691.5" y="2436.5">ns3::Callback&lt; void &gt;</text></g>
</svg>
